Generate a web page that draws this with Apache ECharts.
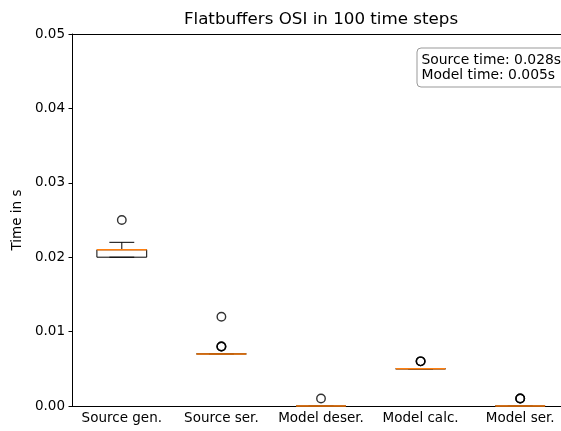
<!DOCTYPE html>
<html>
<head>
<meta charset="utf-8">
<script src="https://cdn.jsdelivr.net/npm/echarts@6/dist/echarts.min.js"></script>
<style>
  html, body { margin: 0; padding: 0; background: #fff; overflow: hidden; }
  #chart { width: 561px; height: 431px; }
</style>
</head>
<body>
<div id="chart"></div>
<script>
// Box-plot statistics per pipeline stage (seconds)
const categories = ['Source gen.', 'Source ser.', 'Model deser.', 'Model calc.', 'Model ser.'];
const whiskerLow  = [0.020, 0.007, 0.000, 0.005, 0.000];
const quartile1   = [0.020, 0.007, 0.000, 0.005, 0.000];
const medians     = [0.021, 0.007, 0.000, 0.005, 0.000];
const quartile3   = [0.021, 0.007, 0.000, 0.005, 0.000];
const whiskerHigh = [0.022, 0.007, 0.000, 0.005, 0.000];

// Fliers: stage index and measured value (repeats overlap)
const flierStage = [0, 1, 1, 1, 1, 2, 3, 3, 3, 4, 4, 4];
const flierValue = [0.025, 0.008, 0.008, 0.008, 0.012, 0.001, 0.006, 0.006, 0.006, 0.001, 0.001, 0.001];

const yTicks = [0, 0.01, 0.02, 0.03, 0.04, 0.05];

const summaryLines = ['Source time: 0.028s', 'Model time: 0.005s'];

const FONT = 'DejaVu Sans';

const boxData = categories.map((c, i) =>
  [i, whiskerLow[i], quartile1[i], medians[i], quartile3[i], whiskerHigh[i]]);
const flierData = flierStage.map((s, i) => [s, flierValue[i]]);

function renderBox(params, api) {
  const i = api.value(0);
  const band = api.size([1, 0])[0];
  const half = band * 0.25;
  const capHalf = half * 0.5;
  const pLo = api.coord([i, api.value(1)]);
  const pQ1 = api.coord([i, api.value(2)]);
  const pMed = api.coord([i, api.value(3)]);
  const pQ3 = api.coord([i, api.value(4)]);
  const pHi = api.coord([i, api.value(5)]);
  const x = pQ1[0];
  const black = { stroke: '#000', lineWidth: 1, fill: null };
  return {
    type: 'group',
    children: [
      { type: 'line', shape: { x1: x, y1: pQ1[1], x2: x, y2: pLo[1] }, style: black },
      { type: 'line', shape: { x1: x, y1: pQ3[1], x2: x, y2: pHi[1] }, style: black },
      { type: 'line', shape: { x1: x - capHalf, y1: pLo[1], x2: x + capHalf, y2: pLo[1] }, style: black },
      { type: 'line', shape: { x1: x - capHalf, y1: pHi[1], x2: x + capHalf, y2: pHi[1] }, style: black },
      { type: 'rect', shape: { x: x - half, y: pQ3[1], width: half * 2, height: pQ1[1] - pQ3[1] }, style: black },
      { type: 'line', shape: { x1: x - half, y1: pMed[1], x2: x + half, y2: pMed[1] },
        style: { stroke: '#ff7f0e', lineWidth: 1.5 } }
    ]
  };
}

const chart = echarts.init(document.getElementById('chart'), null, { renderer: 'canvas' });
chart.setOption({
  animation: false,
  backgroundColor: '#fff',
  textStyle: { fontFamily: FONT },
  title: {
    text: 'Flatbuffers OSI in 100 time steps',
    left: 316, top: 6, textAlign: 'center',
    textStyle: { fontFamily: FONT, fontSize: 16.7, fontWeight: 'normal', color: '#000' }
  },
  // rounded annotation box with the summed timings
  graphic: [
    {
      type: 'rect',
      x: 417, y: 48, z: 10,
      shape: { x: 0, y: 0, width: 240, height: 39, r: 4 },
      style: { fill: '#fff', stroke: '#999', lineWidth: 1 }
    },
    {
      type: 'text',
      x: 421.5, y: 53, z: 11,
      style: {
        text: summaryLines.join('\n'),
        font: '13.9px "DejaVu Sans"',
        fill: '#000',
        lineHeight: 15
      }
    }
  ],
  grid: {
    left: 72, top: 34, width: 498, height: 372,
    outerBoundsMode: 'none',
    containLabel: false,
    show: false
  },
  xAxis: [
    {
      type: 'category',
      data: categories,
      boundaryGap: true,
      axisLine: { lineStyle: { color: '#000', width: 1 } },
      axisTick: { alignWithLabel: true, length: 3.5, lineStyle: { color: '#000' } },
      axisLabel: { color: '#000', fontFamily: FONT, fontSize: 13.5, margin: 5, interval: 0 },
      splitLine: { show: false }
    },
    {
      // top spine of the axes frame
      type: 'category',
      data: categories,
      position: 'top',
      axisLine: { lineStyle: { color: '#000', width: 1 } },
      axisTick: { show: false },
      axisLabel: { show: false },
      splitLine: { show: false }
    }
  ],
  yAxis: {
    type: 'value',
    min: yTicks[0], max: yTicks[yTicks.length - 1], interval: 0.01,
    name: 'Time in s',
    nameLocation: 'middle',
    nameGap: 46,
    nameRotate: 90,
    nameTextStyle: { color: '#000', fontFamily: FONT, fontSize: 13.5 },
    axisLine: { show: true, lineStyle: { color: '#000', width: 1 } },
    axisTick: { show: true, length: 3.5, lineStyle: { color: '#000' } },
    axisLabel: { color: '#000', fontFamily: FONT, fontSize: 13.5, margin: 7,
      formatter: v => v.toFixed(2) },
    splitLine: { show: false }
  },
  series: [
    {
      type: 'custom',
      data: boxData,
      encode: { x: 0, y: [1, 2, 3, 4, 5] },
      renderItem: renderBox,
      z: 2
    },
    {
      type: 'scatter',
      data: flierData,
      symbol: 'circle',
      symbolSize: 8.5,
      itemStyle: { color: 'rgba(0,0,0,0)', borderColor: '#000', borderWidth: 1.4 },
      z: 3
    }
  ]
});
</script>
</body>
</html>
